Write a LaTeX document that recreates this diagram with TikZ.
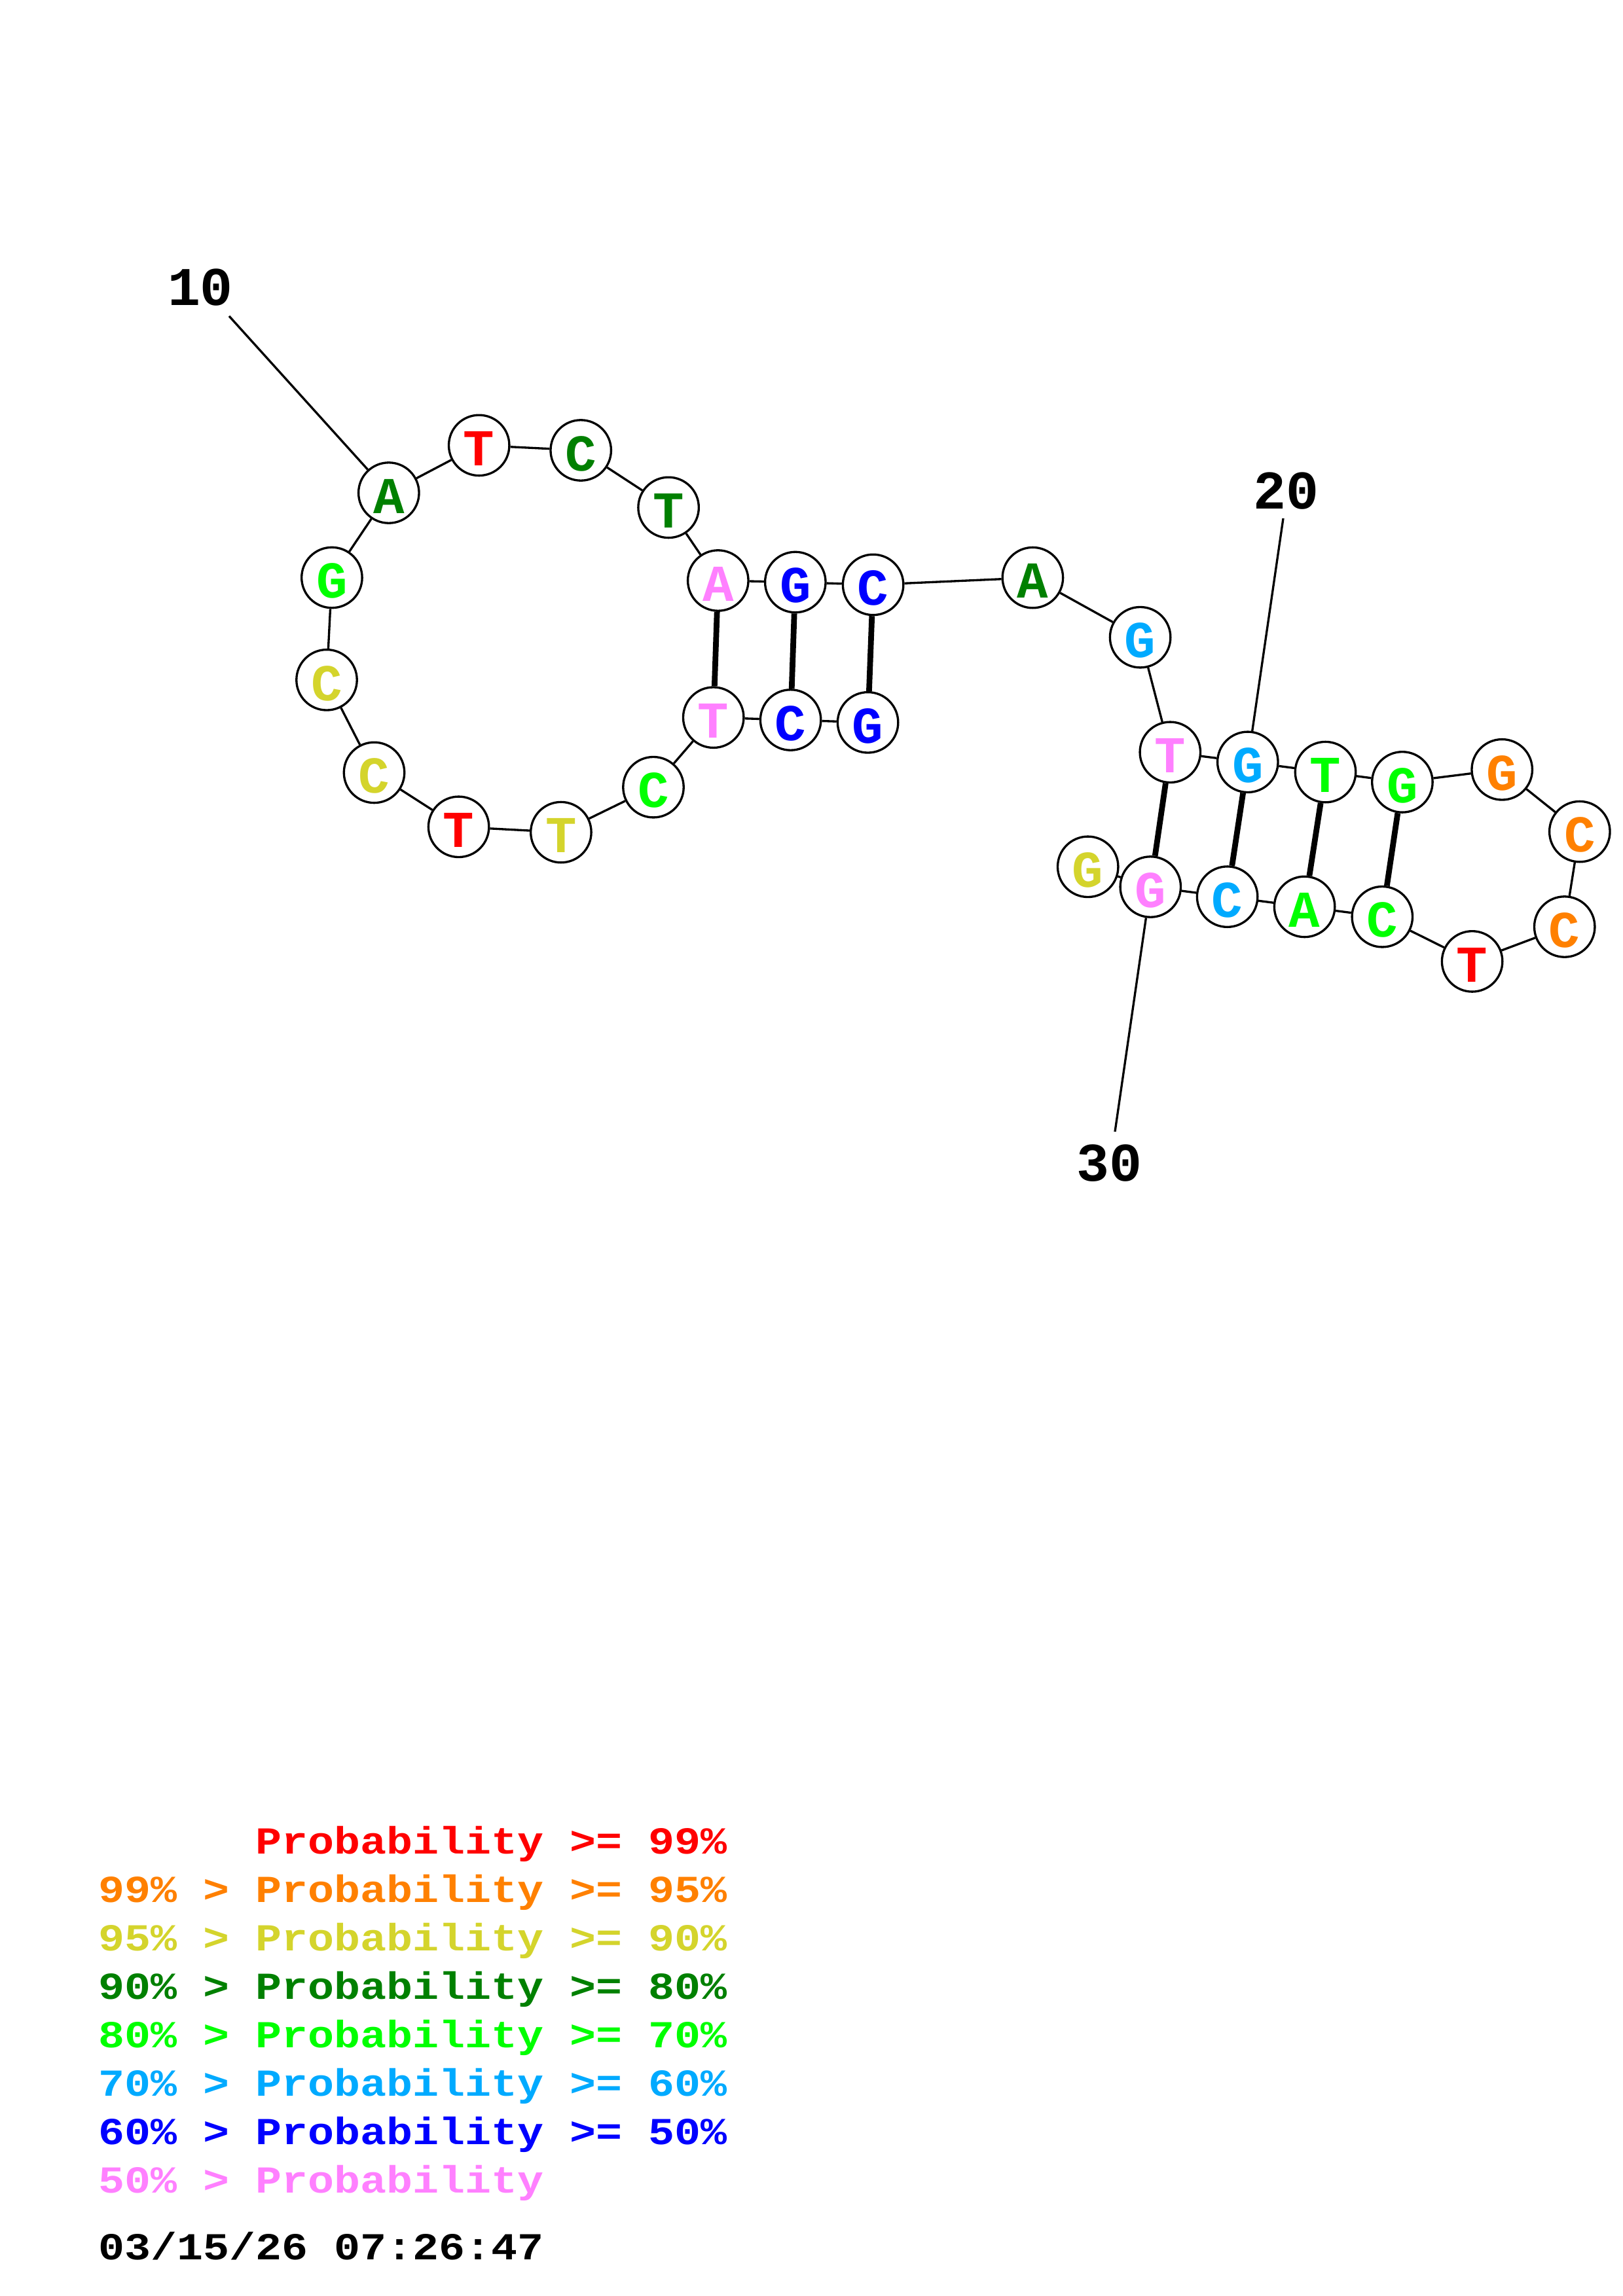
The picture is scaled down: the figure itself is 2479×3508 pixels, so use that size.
\documentclass[tikz,border=0pt]{standalone}
\usepackage{fontspec}
\newfontfamily\monof{Liberation Mono}
\newfontfamily\legf[FakeStretch=1.143]{Liberation Mono}
\definecolor{pr}{RGB}{255,0,0}
\definecolor{po}{RGB}{255,128,0}
\definecolor{py}{RGB}{212,212,44}
\definecolor{pd}{RGB}{0,128,0}
\definecolor{pg}{RGB}{0,255,0}
\definecolor{pc}{RGB}{0,170,255}
\definecolor{pb}{RGB}{0,0,255}
\definecolor{pp}{RGB}{255,128,255}
\begin{document}
\begin{tikzpicture}[x=0.24013pt,y=-0.24013pt,
  base/.style={circle,draw=black,fill=white,line width=0.8pt,minimum size=22.2pt,inner sep=0pt,
    text height=15pt,text depth=0pt,
    font=\monof\bfseries\fontsize{19}{19}\selectfont},
  bb/.style={line width=0.8pt},
  bp/.style={line width=2.1pt},
  numlbl/.style={inner sep=0pt,font=\monof\bfseries\fontsize{20}{20}\selectfont},
  leg/.style={inner sep=0pt,anchor=base west,font=\legf\bfseries\fontsize{14}{14}\selectfont}]
\path[use as bounding box,fill=white] (0,0) rectangle (2479,3508);
% bases
\node[base,text=pb] (n1)  at (1325.6,1103.8) {G};
\node[base,text=pb] (n2)  at (1207.6,1100.0) {C};
\node[base,text=pp] (n3)  at (1089.7,1096.2) {T};
\node[base,text=pg] (n4)  at (998.0,1202.7) {C};
\node[base,text=py] (n5)  at (856.9,1271.6) {T};
\node[base,text=pr] (n6)  at (700.6,1263.3) {T};
\node[base,text=py] (n7)  at (571.5,1180.4) {C};
\node[base,text=py] (n8)  at (499.0,1038.8) {C};
\node[base,text=pg] (n9)  at (506.9,882.5) {G};
\node[base,text=pd] (n10) at (593.8,753.0) {A};
\node[base,text=pr] (n11) at (731.7,680.4) {T};
\node[base,text=pd] (n12) at (887.2,688.0) {C};
\node[base,text=pd] (n13) at (1021.1,775.4) {T};
\node[base,text=pp] (n14) at (1096.8,887.0) {A};
\node[base,text=pb] (n15) at (1214.8,889.5) {G};
\node[base,text=pb] (n16) at (1333.6,893.4) {C};
\node[base,text=pd] (n17) at (1577.4,882.6) {A};
\node[base,text=pc] (n18) at (1741.6,973.7) {G};
\node[base,text=pp] (n19) at (1787.3,1149.3) {T};
\node[base,text=pc] (n20) at (1905.8,1164.3) {G};
\node[base,text=pg] (n21) at (2024.5,1179.6) {T};
\node[base,text=pg] (n22) at (2141.9,1194.9) {G};
\node[base,text=po] (n23) at (2294.2,1175.8) {G};
\node[base,text=po] (n24) at (2412.8,1270.6) {C};
\node[base,text=po] (n25) at (2389.7,1416.0) {C};
\node[base,text=pr] (n26) at (2248.6,1468.9) {T};
\node[base,text=pg] (n27) at (2111.3,1400.7) {C};
\node[base,text=pg] (n28) at (1992.6,1385.4) {A};
\node[base,text=pc] (n29) at (1874.6,1370.1) {C};
\node[base,text=pp] (n30) at (1757.3,1355.0) {G};
\node[base,text=py] (n31) at (1661.7,1324.3) {G};
% backbone
\foreach \a/\b in {1/2,2/3,3/4,4/5,5/6,6/7,7/8,8/9,9/10,10/11,11/12,12/13,13/14,14/15,15/16,16/17,17/18,18/19,19/20,20/21,21/22,22/23,23/24,24/25,25/26,26/27,27/28,28/29,29/30,30/31}
  \draw[bb] (n\a) -- (n\b);
% base pairs
\foreach \a/\b in {14/3,15/2,16/1,19/30,20/29,21/28,22/27}
  \draw[bp] (n\a) -- (n\b);
% numbering
\coordinate (c10) at (350,483);
\coordinate (c20) at (1960,792);
\coordinate (c30) at (1703,1729);
\draw[bb] (c10) -- (n10);
\draw[bb] (c20) -- (n20);
\draw[bb] (c30) -- (n30);
\node[numlbl] (t10) at (306,439) {10};
\node[numlbl] (t20) at (1964,750) {20};
\node[numlbl] (t30) at (1694,1777) {30};
% legend
\node[leg,text=pr] (g1) at (390,2832) {Probability >= 99\%};
\node[leg,text=po] (g2) at (150,2906) {99\% > Probability >= 95\%};
\node[leg,text=py] (g3) at (150,2980) {95\% > Probability >= 90\%};
\node[leg,text=pd] (g4) at (150,3054) {90\% > Probability >= 80\%};
\node[leg,text=pg] (g5) at (150,3128) {80\% > Probability >= 70\%};
\node[leg,text=pc] (g6) at (150,3202) {70\% > Probability >= 60\%};
\node[leg,text=pb] (g7) at (150,3276) {60\% > Probability >= 50\%};
\node[leg,text=pp] (g8) at (150,3350) {50\% > Probability};
\node[leg,text=black] (dt) at (150,3452) {03/15/26 07:26:47};
\end{tikzpicture}
\end{document}
